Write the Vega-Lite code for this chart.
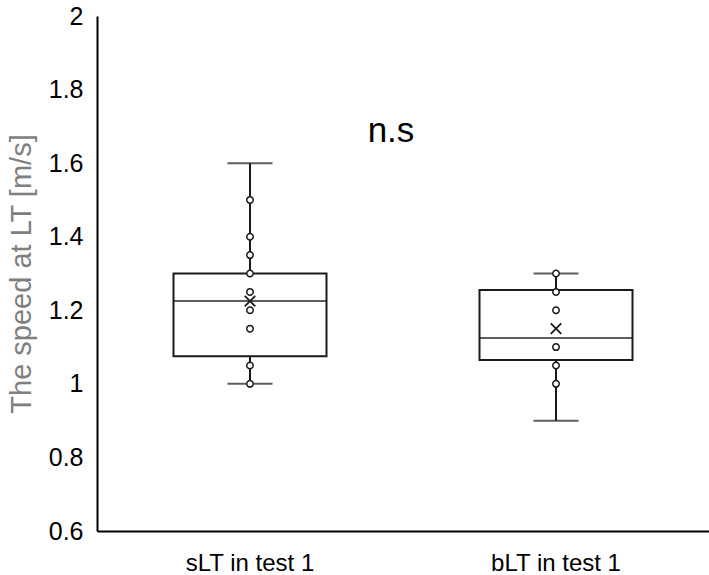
{
  "$schema": "https://vega.github.io/schema/vega-lite/v6.json",
  "width": 612,
  "height": 515,
  "autosize": "none",
  "padding": {"left": 97, "top": 16, "right": 0, "bottom": 44},
  "background": "white",
  "config": {
    "view": {"stroke": null},
    "font": "Liberation Sans",
    "axis": {"grid": false, "ticks": false, "domainColor": "#000000", "domainWidth": 2, "labelColor": "#000000", "labelFont": "Liberation Sans"}
  },
  "datasets": {
    "stats": [
      {"cat": "sLT in test 1", "lower": 1.0, "q1": 1.075, "median": 1.225, "q3": 1.3, "upper": 1.6, "mean": 1.225},
      {"cat": "bLT in test 1", "lower": 0.9, "q1": 1.065, "median": 1.125, "q3": 1.255, "upper": 1.3, "mean": 1.15}
    ],
    "points": [
      {"cat": "sLT in test 1", "v": 1.0},
      {"cat": "sLT in test 1", "v": 1.05},
      {"cat": "sLT in test 1", "v": 1.15},
      {"cat": "sLT in test 1", "v": 1.2},
      {"cat": "sLT in test 1", "v": 1.25},
      {"cat": "sLT in test 1", "v": 1.3},
      {"cat": "sLT in test 1", "v": 1.35},
      {"cat": "sLT in test 1", "v": 1.4},
      {"cat": "sLT in test 1", "v": 1.5},
      {"cat": "bLT in test 1", "v": 1.0},
      {"cat": "bLT in test 1", "v": 1.05},
      {"cat": "bLT in test 1", "v": 1.1},
      {"cat": "bLT in test 1", "v": 1.2},
      {"cat": "bLT in test 1", "v": 1.25},
      {"cat": "bLT in test 1", "v": 1.3}
    ],
    "label": [{"cat": "sLT in test 1", "y": 1.6575, "t": "n.s"}]
  },
  "encoding": {
    "x": {
      "field": "cat", "type": "nominal", "sort": ["sLT in test 1", "bLT in test 1"],
      "scale": {"paddingInner": 0, "paddingOuter": 0},
      "axis": {"title": null, "labelAngle": 0, "labelFontSize": 24, "labelPadding": 20}
    }
  },
  "layer": [
    {
      "data": {"name": "stats"},
      "mark": {"type": "rule", "color": "#1a1a1a", "strokeWidth": 2},
      "encoding": {
        "y": {"field": "lower", "type": "quantitative", "scale": {"domain": [0.6, 2], "nice": false, "zero": false},
          "axis": {"values": [0.6, 0.8, 1, 1.2, 1.4, 1.6, 1.8, 2], "format": "~f", "labelFontSize": 25, "labelPadding": 14,
            "title": "The speed at LT [m/s]", "titleColor": "#7f7f7f", "titleFontSize": 29, "titleFontWeight": "normal", "titleFont": "Liberation Sans", "titlePadding": 12}},
        "y2": {"field": "q1"}
      }
    },
    {
      "data": {"name": "stats"},
      "mark": {"type": "rule", "color": "#1a1a1a", "strokeWidth": 2},
      "encoding": {"y": {"field": "q3", "type": "quantitative"}, "y2": {"field": "upper"}}
    },
    {
      "data": {"name": "stats"},
      "mark": {"type": "tick", "color": "#1a1a1a", "size": 45, "thickness": 2},
      "encoding": {"y": {"field": "lower", "type": "quantitative"}}
    },
    {
      "data": {"name": "stats"},
      "mark": {"type": "tick", "color": "#1a1a1a", "size": 45, "thickness": 2},
      "encoding": {"y": {"field": "upper", "type": "quantitative"}}
    },
    {
      "data": {"name": "stats"},
      "mark": {"type": "bar", "fill": null, "fillOpacity": 0, "stroke": "#1a1a1a", "strokeWidth": 2, "width": {"band": 0.5}},
      "encoding": {"y": {"field": "q1", "type": "quantitative"}, "y2": {"field": "q3"}}
    },
    {
      "data": {"name": "stats"},
      "mark": {"type": "tick", "color": "#1a1a1a", "size": 153, "thickness": 2},
      "encoding": {"y": {"field": "median", "type": "quantitative"}}
    },
    {
      "data": {"name": "points"},
      "mark": {"type": "point", "shape": "circle", "filled": false, "fill": "white", "fillOpacity": 1, "stroke": "#1a1a1a", "strokeWidth": 1.5, "size": 42, "opacity": 1},
      "encoding": {"y": {"field": "v", "type": "quantitative"}}
    },
    {
      "data": {"name": "stats"},
      "mark": {"type": "point", "shape": "M-1,-1L1,1M1,-1L-1,1", "filled": false, "stroke": "#1a1a1a", "strokeWidth": 1.8, "size": 110, "opacity": 1},
      "encoding": {"y": {"field": "mean", "type": "quantitative"}}
    },
    {
      "data": {"name": "label"},
      "mark": {"type": "text", "fontSize": 35, "color": "#000000", "baseline": "alphabetic", "align": "center", "dx": -12},
      "encoding": {
        "x": {"field": "cat", "type": "nominal", "bandPosition": 1},
        "y": {"field": "y", "type": "quantitative"},
        "text": {"field": "t"}
      }
    }
  ]
}
